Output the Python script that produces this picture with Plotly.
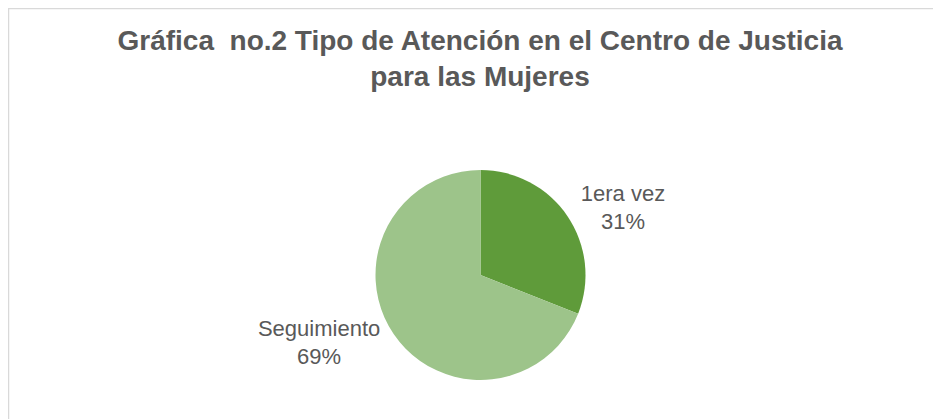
import plotly.graph_objects as go

# Data
categories = ["1era vez", "Seguimiento"]
values = [31, 69]
slice_colors = ["#5f9b3a", "#9dc48a"]

title = "Gráfica  no.2 Tipo de Atención en el Centro de Justicia<br>para las Mujeres"

W, H = 941, 419

fig = go.Figure(
    data=go.Pie(
        labels=categories,
        values=values,
        sort=False,
        direction="clockwise",
        rotation=0,
        marker=dict(colors=slice_colors, line=dict(width=0)),
        texttemplate="%{label}<br>%{percent:.0%}",
        textposition="outside",
        outsidetextfont=dict(family="Liberation Sans, Arial", size=22, color="#595959"),
        showlegend=False,
        hoverinfo="label+percent",
        domain=dict(x=[367.5 / W, 577.5 / W], y=[1 - 372 / H, 1 - 162 / H]),
    )
)

fig.update_layout(
    width=W,
    height=H,
    margin=dict(l=0, r=0, t=0, b=0),
    paper_bgcolor="white",
    plot_bgcolor="white",
    title=dict(
        text=title,
        x=472 / W,
        xanchor="center",
        y=1 - 42 / H,
        yanchor="top",
        font=dict(family="Liberation Sans, Arial", size=28, color="#595959", weight="bold"),
    ),
    # chart-area border, cut off on the right and bottom as in the original
    shapes=[
        dict(
            type="rect",
            xref="paper",
            yref="paper",
            x0=0.5 / W,
            x1=1.05,
            y0=-0.05,
            y1=1 - 0.5 / H,
            line=dict(color="#d9d9d9", width=1.5),
        )
    ],
)

fig.write_html("out.html")
